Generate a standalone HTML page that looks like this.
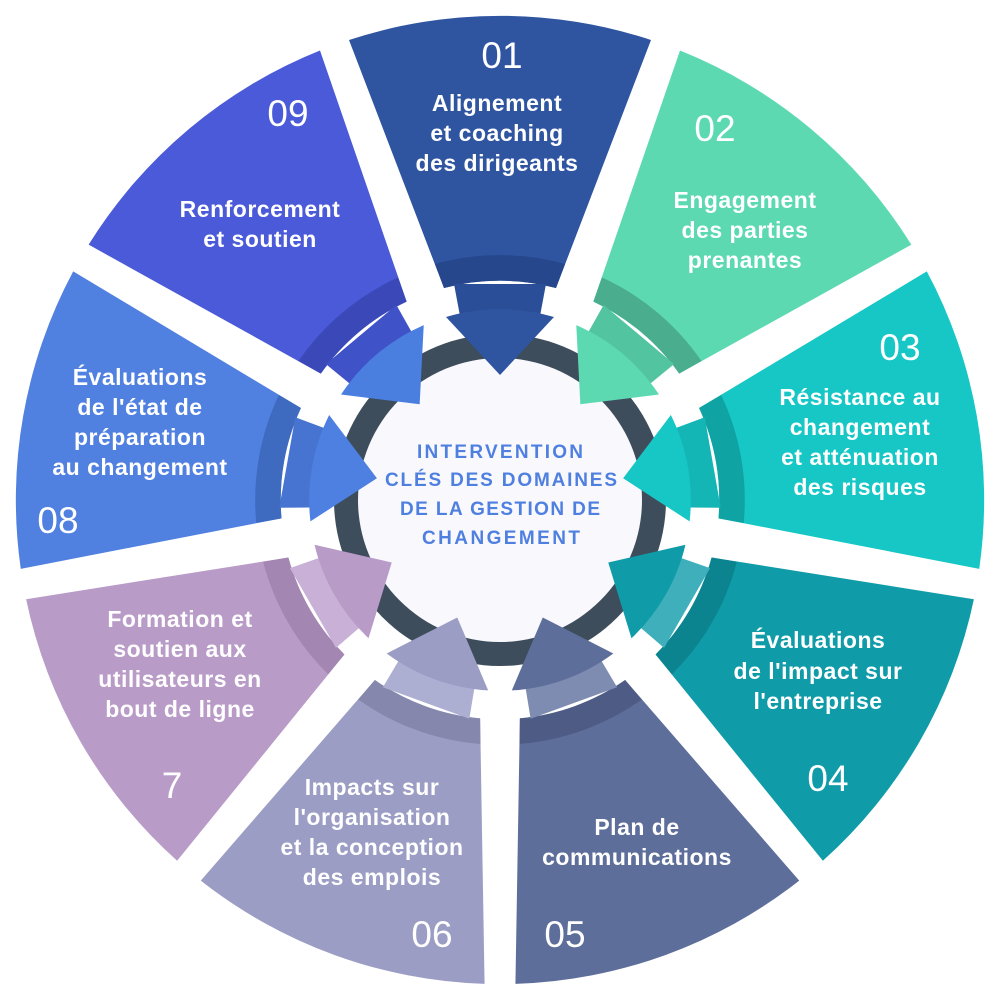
<!DOCTYPE html>
<html><head><meta charset="utf-8"><style>
html,body{margin:0;padding:0;background:#fff;}
svg{display:block}
.t{font-family:"Liberation Sans",sans-serif;font-weight:bold;font-size:23px;fill:#fff;text-anchor:middle;letter-spacing:0.5px}
.n{font-family:"Liberation Sans",sans-serif;font-size:37px;fill:#fff;text-anchor:middle}
.c{font-family:"Liberation Sans",sans-serif;font-weight:bold;font-size:19px;fill:#4f80e0;text-anchor:middle}
</style></head><body>
<svg width="1000" height="1000" viewBox="0 0 1000 1000">
<defs>
<path id="w" d="M-151,-460 A484 484 0 0 1 151,-460 L56,-212 A218 218 0 0 0 -56,-212 Z"/>
<path id="b" d="M-65,-236 A244 244 0 0 1 65,-236 L56,-212 A218 218 0 0 0 -56,-212 Z"/>
<path id="k" d="M-46,-216 L46,-216 L40,-184 L-40,-184 Z"/>
<path id="a" d="M-54,-183 A190 190 0 0 1 54,-183 L0,-125 Z"/>
</defs>
<g transform="translate(500,500)">
<g transform="rotate(0)"><use href="#w" fill="#2f55a1"/><use href="#b" fill="#26478b"/><use href="#k" fill="#2b4e98"/></g>
<g transform="rotate(40)"><use href="#w" fill="#5dd9b2"/><use href="#b" fill="#4aae8e"/><use href="#k" fill="#53c4a0"/></g>
<g transform="rotate(80)"><use href="#w" fill="#16c7c6"/><use href="#b" fill="#10a3a3"/><use href="#k" fill="#14b5b5"/></g>
<g transform="rotate(120)"><use href="#w" fill="#109ba9"/><use href="#b" fill="#0c8490"/><use href="#k" fill="#3fb0bb"/></g>
<g transform="rotate(160)"><use href="#w" fill="#5e6e9b"/><use href="#b" fill="#4e5c85"/><use href="#k" fill="#7d8cb0"/></g>
<g transform="rotate(200)"><use href="#w" fill="#9b9dc4"/><use href="#b" fill="#8587ad"/><use href="#k" fill="#adafd2"/></g>
<g transform="rotate(240)"><use href="#w" fill="#b99bc8"/><use href="#b" fill="#a386b1"/><use href="#k" fill="#c8b0d6"/></g>
<g transform="rotate(280)"><use href="#w" fill="#5080e0"/><use href="#b" fill="#3e6ac0"/><use href="#k" fill="#4674d0"/></g>
<g transform="rotate(320)"><use href="#w" fill="#4a5ad8"/><use href="#b" fill="#3b49b8"/><use href="#k" fill="#4052c8"/></g>
<circle r="166" fill="#3d4d5b"/>
<circle r="142" fill="#f8f8fd"/>
<g transform="rotate(0)"><use href="#a" fill="#2f55a1"/></g>
<g transform="rotate(40)"><use href="#a" fill="#5dd9b2"/></g>
<g transform="rotate(80)"><use href="#a" fill="#16c7c6"/></g>
<g transform="rotate(120)"><use href="#a" fill="#109ba9"/></g>
<g transform="rotate(160)"><use href="#a" fill="#5e6e9b"/></g>
<g transform="rotate(200)"><use href="#a" fill="#9b9dc4"/></g>
<g transform="rotate(240)"><use href="#a" fill="#b99bc8"/></g>
<g transform="rotate(280)"><use href="#a" fill="#4d80e0"/></g>
<g transform="rotate(320)"><use href="#a" fill="#4a7fe0"/></g>
</g>
<text class="c" x="500" y="458" textLength="166">INTERVENTION</text>
<text class="c" x="501" y="486" textLength="232">CLÉS DES DOMAINES</text>
<text class="c" x="500" y="515" textLength="200">DE LA GESTION DE</text>
<text class="c" x="501" y="544" textLength="158">CHANGEMENT</text>

<text class="n" x="502" y="68">01</text>
<text class="t" x="497" y="111">Alignement</text>
<text class="t" x="497" y="141">et coaching</text>
<text class="t" x="497" y="171">des dirigeants</text>

<text class="n" x="715" y="141">02</text>
<text class="t" x="745" y="208">Engagement</text>
<text class="t" x="745" y="238">des parties</text>
<text class="t" x="745" y="268">prenantes</text>

<text class="n" x="900" y="360">03</text>
<text class="t" x="860" y="405">Résistance au</text>
<text class="t" x="860" y="435">changement</text>
<text class="t" x="860" y="465">et atténuation</text>
<text class="t" x="860" y="495">des risques</text>

<text class="t" x="818" y="648">Évaluations</text>
<text class="t" x="818" y="679">de l'impact sur</text>
<text class="t" x="818" y="709">l'entreprise</text>
<text class="n" x="828" y="791">04</text>

<text class="t" x="637" y="835">Plan de</text>
<text class="t" x="637" y="865">communications</text>
<text class="n" x="565" y="947">05</text>

<text class="t" x="372" y="795">Impacts sur</text>
<text class="t" x="372" y="825">l'organisation</text>
<text class="t" x="372" y="855">et la conception</text>
<text class="t" x="372" y="885">des emplois</text>
<text class="n" x="432" y="947">06</text>

<text class="t" x="180" y="627">Formation et</text>
<text class="t" x="180" y="657">soutien aux</text>
<text class="t" x="180" y="687">utilisateurs en</text>
<text class="t" x="180" y="717">bout de ligne</text>
<text class="n" x="172" y="798">7</text>

<text class="t" x="140" y="385">Évaluations</text>
<text class="t" x="140" y="415">de l'état de</text>
<text class="t" x="140" y="445">préparation</text>
<text class="t" x="140" y="475">au changement</text>
<text class="n" x="58" y="533">08</text>

<text class="n" x="288" y="126">09</text>
<text class="t" x="260" y="217">Renforcement</text>
<text class="t" x="260" y="247">et soutien</text>
</svg>
</body></html>
